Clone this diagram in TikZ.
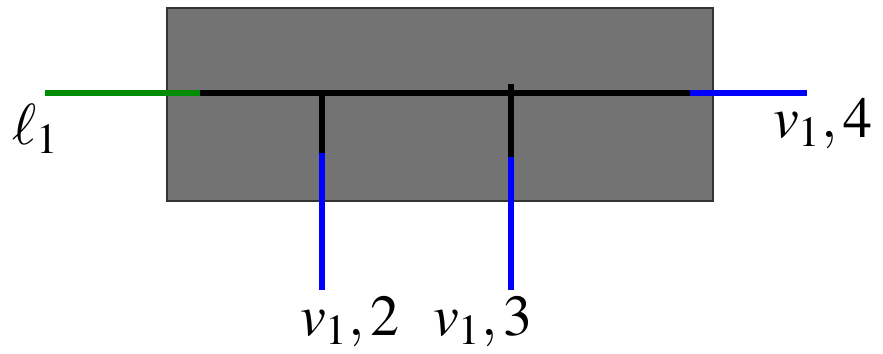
\documentclass[tikz,border=0pt]{standalone}
\usepackage{mathptmx}
\begin{document}
\begin{tikzpicture}[x=0.02cm,y=-0.02cm,
  wire/.style={line width=3.4pt},
  lab/.style={inner sep=0pt,font=\fontsize{33}{38}\selectfont}]
  \useasboundingbox (0,0) rectangle (883,354);
  \fill[black!55,draw=black!80,line width=0.6pt] (167,8) rectangle (713,201);
  \coordinate (inl) at (45,93);
  \coordinate (inr) at (200,93);
  \coordinate (outl) at (690,93);
  \coordinate (outr) at (807,93);
  \coordinate (ja) at (322,93);
  \coordinate (ma) at (322,153);
  \coordinate (ea) at (322,290);
  \coordinate (jb) at (511,84);
  \coordinate (mb) at (511,157);
  \coordinate (eb) at (511,290);
  \draw[wire,green!55!black] (inl) -- (inr);
  \draw[wire,black] (inr) -- (outl);
  \draw[wire,blue] (outl) -- (outr);
  \draw[wire,black] (ja) -- (ma);
  \draw[wire,blue] (ma) -- (ea);
  \draw[wire,black] (jb) -- (mb);
  \draw[wire,blue] (mb) -- (eb);
  \node[lab,anchor=base] (tl) at (36,145) {$\ell_1$};
  \node[lab,anchor=base] (t4) at (823,138) {$v_1,4$};
  \node[lab,anchor=base] (t2) at (350,336) {$v_1,2$};
  \node[lab,anchor=base] (t3) at (483,336) {$v_1,3$};
\end{tikzpicture}
\end{document}
